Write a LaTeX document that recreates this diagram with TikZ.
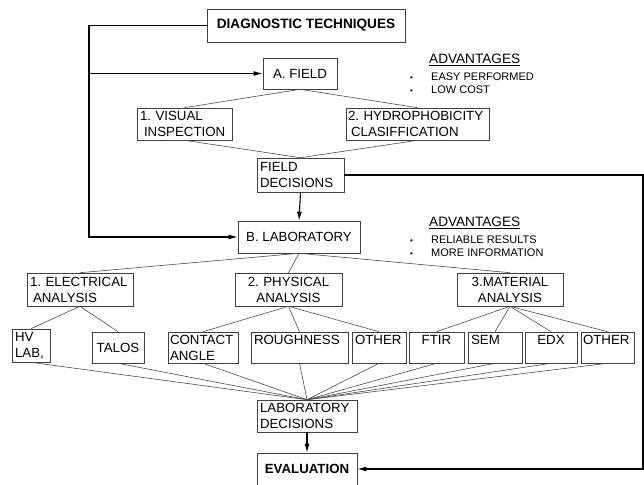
\documentclass[tikz,border=0pt]{standalone}
\usepackage{fontspec}
\setmainfont{Liberation Sans}
\usepackage{tikz}
\usetikzlibrary{calc,arrows.meta}
\frenchspacing

\tikzset{
  caja/.style={draw=black!75, line width=0.6pt, inner xsep=3pt, inner ysep=2pt,
    font=\fontsize{13.3}{16}\selectfont},
  rama/.style={black!70, line width=0.6pt},
  flujo/.style={black, line width=1.1pt, -{Latex[length=9pt,width=5pt]}},
  ventaja/.style={inner sep=0pt, font=\fontsize{13.6}{16}\selectfont},
  lista/.style={inner sep=0pt, align=left, font=\fontsize{11}{13}\selectfont},
}
\newcommand{\punto}{\makebox[21pt][l]{\fontsize{8}{8}\selectfont\textbullet}}

\begin{document}
\begin{tikzpicture}[x=1pt,y=-1pt]
  \useasboundingbox (0,0) rectangle (644,484);

  % Nivel superior
  \node[caja, minimum width=198pt, minimum height=33pt,
        font=\fontsize{13.6}{16}\selectfont\bfseries] (diag) at (306,25.5) {DIAGNOSTIC TECHNIQUES};

  % Campo
  \node[caja, minimum width=74pt, minimum height=31pt] (field) at (300,73.5) {A. FIELD};
  \node[caja, text width=89pt, minimum height=32pt, align=left] (visual) at (184.5,124)
        {1. VISUAL\\\hspace*{4pt}INSPECTION};
  \node[caja, text width=139pt, inner xsep=2pt, minimum height=32pt, align=left] (hydro) at (417.5,124)
        {2. HYDROPHOBICITY\\\hspace*{3pt}CLASIFFICATION};
  \node[caja, text width=81pt, minimum height=34pt, align=left] (fdec) at (300.5,175)
        {FIELD\\DECISIONS};

  % Laboratorio
  \node[caja, minimum width=122pt, minimum height=32pt] (blab) at (299,237) {B. LABORATORY};
  \node[caja, text width=100pt, minimum height=33pt, align=left] (elec) at (80,289.5)
        {1. ELECTRICAL\\\hspace*{3pt}ANALYSIS};
  \node[caja, text width=101pt, minimum height=33pt, align=center] (phys) at (288.5,289.5)
        {2. PHYSICAL\\ANALYSIS};
  \node[caja, text width=100pt, minimum height=33pt, align=center] (mat) at (510,289.5)
        {3.MATERIAL\\ANALYSIS};

  % Ensayos
  \node[caja, text width=32pt, minimum height=33pt, align=left] (hv) at (31,345.5) {HV\\LAB,};
  \node[caja, minimum width=52pt, minimum height=31pt] (talos) at (118,347.5) {TALOS};
  \node[caja, text width=66pt, inner xsep=2pt, minimum height=31pt, align=left] (contact) at (203,347.5)
        {CONTACT\\ANGLE};
  \node[caja, text width=91pt, minimum height=31pt, align=left] (rough) at (299.5,347.5) {ROUGHNESS\\\mbox{}};
  \node[caja, text width=48pt, minimum height=31pt, align=left] (otherp) at (379,347.5) {OTHER\\\mbox{}};
  \node[caja, text width=49pt, minimum height=31pt, align=center] (ftir) at (436.5,347.5) {FTIR\\\mbox{}};
  \node[caja, text width=48pt, minimum height=31pt, align=left] (sem) at (495,347.5) {SEM\\\mbox{}};
  \node[caja, text width=46pt, minimum height=31pt, align=center] (edx) at (551,347.5) {EDX\\\mbox{}};
  \node[caja, text width=49pt, inner xsep=2pt, minimum height=31pt, align=left] (otherm) at (607.5,347.5) {OTHER\\\mbox{}};

  % Decisiones y evaluacion
  \node[caja, text width=94pt, minimum height=32pt, align=left] (ldec) at (307,416)
        {LABORATORY\\DECISIONS};
  \node[caja, minimum width=100pt, minimum height=32pt,
        font=\fontsize{13.3}{16}\selectfont\bfseries] (eval) at (307,469) {EVALUATION};

  % Ventajas
  \node[ventaja, anchor=west] (adv1) at (429,60) {\underline{ADVANTAGES}};
  \node[lista, anchor=west] (lst1) at (410,83.5) {\punto EASY PERFORMED\\\punto LOW COST};
  \node[ventaja, anchor=west] (adv2) at (429,223) {\underline{ADVANTAGES}};
  \node[lista, anchor=west] (lst2) at (410,246.5) {\punto RELIABLE RESULTS\\\punto MORE INFORMATION};

  % Flechas
  \coordinate (esquina) at (89,237);
  \coordinate (borde) at (643,175);
  \draw[flujo] (diag.west) -| (esquina) -- (blab.west);
  \draw[flujo] (esquina |- field.west) -- (field.west);
  \draw[flujo] (fdec.south) -- (blab.north);
  \draw[flujo] (ldec.south) -- (eval.north);
  \draw[flujo] (fdec.east) -- (borde) |- (eval.east);

  % Ramas
  \draw[rama] (field.south) -- (visual.north);
  \draw[rama] (field.south) -- (hydro.north);
  \draw[rama] (visual.south) -- (fdec.north);
  \draw[rama] (hydro.south) -- (fdec.north);
  \foreach \b in {elec,phys,mat}
    \draw[rama] (blab.south) -- (\b.north);
  \foreach \b in {hv,talos}
    \draw[rama] (elec.south) -- (\b.north);
  \foreach \b in {contact,rough,otherp}
    \draw[rama] (phys.south) -- (\b.north);
  \foreach \b in {ftir,sem,edx,otherm}
    \draw[rama] (mat.south) -- (\b.north);
  \foreach \b in {hv,talos,contact,rough,otherp,ftir,sem,edx,otherm}
    \draw[rama] (\b.south) -- (ldec.north);
\end{tikzpicture}
\end{document}
